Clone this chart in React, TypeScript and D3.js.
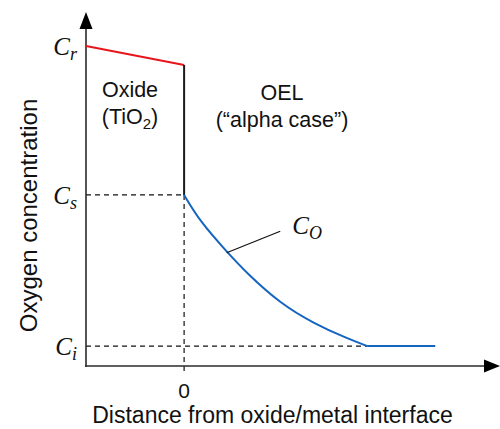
import React from "react";
import * as d3 from "d3";

const W = 500;
const H = 429;

// Data (arbitrary units)
const xDomain = [-1, 3.22];
const yDomain = [0, 11];
const oxideLine = [
  { x: -1, y: 9.97 },
  { x: 0, y: 9.38 },
];
const interfaceJump = [
  { x: 0, y: 9.38 },
  { x: 0, y: 5.33 },
];
const oelCurve = [
  { x: 0, y: 5.33 },
  { x: 0.163, y: 4.5 },
  { x: 0.436, y: 3.56 },
  { x: 0.64, y: 2.89 },
  { x: 0.98, y: 1.95 },
  { x: 1.32, y: 1.33 },
  { x: 1.66, y: 0.86 },
  { x: 1.87, y: 0.62 },
];
const oelFlat = [
  { x: 1.87, y: 0.62 },
  { x: 2.56, y: 0.62 },
];
const levels = { Cr: 9.97, Cs: 5.33, Ci: 0.62 };
const leader = [
  { x: 0.434, y: 3.53 },
  { x: 0.98, y: 4.2 },
];
const xTickLabels = ["0"];

const sans = "'Liberation Sans', Arial, sans-serif";
const serif = "'Liberation Serif', 'Times New Roman', serif";

export default function App() {
  const x = d3.scaleLinear().domain(xDomain).range([86, 500]);
  const y = d3.scaleLinear().domain(yDomain).range([366, 13]);
  const line = d3
    .line<{ x: number; y: number }>()
    .x((d) => x(d.x))
    .y((d) => y(d.y));
  const curve = d3
    .line<{ x: number; y: number }>()
    .x((d) => x(d.x))
    .y((d) => y(d.y))
    .curve(d3.curveBasis);

  const x0 = x(0);
  const xAxisY = y(0);
  const yAxisX = x(xDomain[0]);
  const axisColor = "#2a2a2a";

  const mathLabel = (main: string, sub: string, px: number, py: number, anchor: "end" | "start" = "end") => (
    <text x={px} y={py} fontFamily={serif} fontStyle="italic" fontSize={25} fill="#111" textAnchor={anchor}>
      {main}
      <tspan fontSize={18} dy={5}>{sub}</tspan>
    </text>
  );

  return (
    <svg width={W} height={H} style={{ display: "block", position: "absolute", left: 0, top: 0, background: "#fff" }}>
      {/* dashed guides */}
      <g stroke="#111" strokeWidth={1.2} strokeDasharray="5,4" fill="none">
        <line x1={yAxisX} x2={x0} y1={y(levels.Cs)} y2={y(levels.Cs)} />
        <line x1={yAxisX} x2={x(oelFlat[0].x)} y1={y(levels.Ci)} y2={y(levels.Ci)} />
        <line x1={x0} x2={x0} y1={y(levels.Cs)} y2={xAxisY + 6} />
      </g>

      {/* axes */}
      <line x1={yAxisX} x2={yAxisX} y1={xAxisY + 1} y2={26} stroke={axisColor} strokeWidth={1.6} />
      <path d={`M${yAxisX},12 L${yAxisX - 6.5},29 L${yAxisX + 6.5},29 Z`} fill="#000" />
      <line x1={yAxisX - 0.8} x2={488} y1={xAxisY} y2={xAxisY} stroke={axisColor} strokeWidth={1.6} />
      <path d={`M500,${xAxisY} L484,${xAxisY - 6.5} L484,${xAxisY + 6.5} Z`} fill="#000" />

      {/* oxide */}
      <path d={line(oxideLine) || ""} stroke="#e8151b" strokeWidth={2} fill="none" />
      <path d={line(interfaceJump) || ""} stroke="#1a1a1a" strokeWidth={2} fill="none" />

      {/* OEL */}
      <path d={curve(oelCurve) || ""} stroke="#1565c0" strokeWidth={2} fill="none" />
      <path d={line(oelFlat) || ""} stroke="#1565c0" strokeWidth={2} fill="none" />
      <path d={line(leader) || ""} stroke="#111" strokeWidth={1.2} fill="none" />

      {/* y level labels */}
      {mathLabel("C", "r", 77, y(levels.Cr) + 9)}
      {mathLabel("C", "s", 77, y(levels.Cs) + 9)}
      {mathLabel("C", "i", 77, y(levels.Ci) + 9)}
      {mathLabel("C", "O", x(leader[1].x) + 12, y(leader[1].y) + 3, "start")}

      {/* region labels */}
      <g fontFamily={sans} fontSize={21.5} fill="#111" textAnchor="middle">
        <text x={130} y={97}>Oxide</text>
        <text x={130} y={124}>
          (TiO<tspan fontSize={15} dy={5}>2</tspan>
          <tspan dy={-5}>)</tspan>
        </text>
        <text x={282} y={100}>OEL</text>
        <text x={282} y={127}>(“alpha case”)</text>
      </g>

      {/* x tick labels */}
      {xTickLabels.map((t) => (
        <text key={t} x={x(+t)} y={398} fontFamily={sans} fontSize={21} fill="#111" textAnchor="middle">
          {t}
        </text>
      ))}

      {/* axis titles */}
      <text x={272.5} y={423} fontFamily={sans} fontSize={23} fill="#111" textAnchor="middle">
        Distance from oxide/metal interface
      </text>
      <text
        transform={`translate(37,215.5) rotate(-90)`}
        fontFamily={sans}
        fontSize={24}
        fill="#111"
        textAnchor="middle"
      >
        Oxygen concentration
      </text>
    </svg>
  );
}
